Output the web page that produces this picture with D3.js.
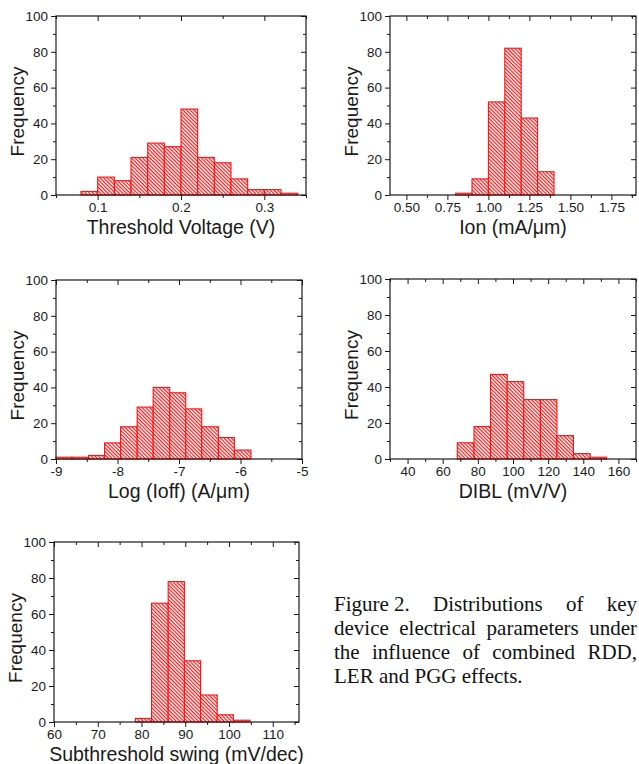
<!DOCTYPE html>
<html>
<head>
<meta charset="utf-8">
<script src="https://cdn.jsdelivr.net/npm/d3@7"></script>
<style>
  html, body { margin: 0; padding: 0; background: #fff; }
  svg { display: block; }
</style>
</head>
<body>
<svg id="chart" width="639" height="764"></svg>
<script>
// ---------------- data ----------------
const freqTicks = [0, 20, 40, 60, 80, 100];

const vthEdges  = [0.08, 0.10, 0.12, 0.14, 0.16, 0.18, 0.20, 0.22, 0.24, 0.26, 0.28, 0.30, 0.32, 0.34];
const vthCounts = [2, 10, 8, 21, 29, 27, 48, 21, 18, 9, 3, 3, 1];
const vthTicks  = [0.1, 0.2, 0.3];

const ionEdges  = [0.8, 0.9, 1.0, 1.1, 1.2, 1.3, 1.4];
const ionCounts = [1, 9, 52, 82, 43, 13];
const ionTicks  = [0.50, 0.75, 1.00, 1.25, 1.50, 1.75];

const ioffEdges  = [-9.00, -8.74, -8.47, -8.21, -7.95, -7.68, -7.42, -7.15, -6.89, -6.63, -6.36, -6.10, -5.83];
const ioffCounts = [1, 1, 2, 9, 18, 29, 40, 37, 28, 18, 12, 5];
const ioffTicks  = [-9, -8, -7, -6, -5];

const diblEdges  = [68.3, 77.8, 87.2, 96.7, 106.1, 115.6, 125.0, 134.4, 143.9, 153.3];
const diblCounts = [9, 18, 47, 43, 33, 33, 13, 3, 1];
const diblTicks  = [40, 60, 80, 100, 120, 140, 160];

const ssEdges  = [78.6, 82.3, 86.1, 89.8, 93.5, 97.3, 101.0, 104.8];
const ssCounts = [2, 66, 78, 34, 15, 4, 1];
const ssTicks  = [60, 70, 80, 90, 100, 110];

const captionLines = [
  ["Figure 2.", "Distributions", "of", "key"],
  ["device", "electrical", "parameters", "under"],
  ["the", "influence", "of", "combined", "RDD,"],
  ["LER and PGG effects."]
];

// ---------------- layout ----------------
const panels = [
  { edges: vthEdges,  counts: vthCounts,  ticks: vthTicks,  domain: [0.05, 0.35], minorStep: 0.05,  fmt: d3.format(".1f"),
    title: "Threshold Voltage (V)", x0: 56, x1: 306, y0: 16, y1: 195 },
  { edges: ionEdges,  counts: ionCounts,  ticks: ionTicks,  domain: [0.4, 1.9],  minorStep: 0.125, fmt: d3.format(".2f"),
    title: "Ion (mA/\u03bcm)", x0: 390, x1: 636, y0: 16, y1: 195 },
  { edges: ioffEdges, counts: ioffCounts, ticks: ioffTicks, domain: [-9, -5],    minorStep: 0.5,   fmt: d => String(d).replace("\u2212", "-"),
    title: "Log (Ioff) (A/\u03bcm)", x0: 56, x1: 302, y0: 280, y1: 459 },
  { edges: diblEdges, counts: diblCounts, ticks: diblTicks, domain: [30, 170],   minorStep: 10,    fmt: d3.format("d"),
    title: "DIBL (mV/V)", x0: 390, x1: 636, y0: 279, y1: 459 },
  { edges: ssEdges,   counts: ssCounts,   ticks: ssTicks,   domain: [60, 116],   minorStep: 5,     fmt: d3.format("d"),
    title: "Subthreshold swing (mV/dec)", x0: 54, x1: 299, y0: 542, y1: 722 }
];

const RED = "#ff1010";
const INK = "#1a1a1a";
const SANS = "'Liberation Sans', Arial, Helvetica, sans-serif";

const svg = d3.select("#chart");
const defs = svg.append("defs");
const pat = defs.append("pattern")
  .attr("id", "hatch")
  .attr("patternUnits", "userSpaceOnUse")
  .attr("width", 2.6).attr("height", 2.6)
  .attr("patternTransform", "rotate(45)");
pat.append("rect").attr("width", 2.6).attr("height", 2.6).attr("fill", "#fff4f4");
pat.append("line").attr("x1", 0).attr("y1", 0).attr("x2", 2.6).attr("y2", 0)
  .attr("stroke", RED).attr("stroke-width", 2.2);

function minorValues(domain, step, majors) {
  const out = [];
  const start = Math.ceil(domain[0] / step - 1e-9);
  const end = Math.floor(domain[1] / step + 1e-9);
  for (let i = start; i <= end; i++) {
    const v = +(i * step).toFixed(6);
    if (!majors.some(m => Math.abs(m - v) < 1e-6)) out.push(v);
  }
  return out;
}

panels.forEach(p => {
  const x = d3.scaleLinear().domain(p.domain).range([p.x0, p.x1]);
  const y = d3.scaleLinear().domain([0, 100]).range([p.y1, p.y0]);
  const g = svg.append("g");

  // bars
  const bins = p.counts.map((c, i) => ({ a: p.edges[i], b: p.edges[i + 1], c }));
  g.append("g").selectAll("rect").data(bins).join("rect")
    .attr("x", d => x(d.a))
    .attr("y", d => y(d.c))
    .attr("width", d => x(d.b) - x(d.a))
    .attr("height", d => y(0) - y(d.c))
    .attr("fill", "url(#hatch)")
    .attr("stroke", RED)
    .attr("stroke-width", 1.1);

  const minX = minorValues(p.domain, p.minorStep, p.ticks);
  const minY = minorValues([0, 100], 10, freqTicks);

  const styleAxis = sel => {
    sel.select(".domain").remove();
    sel.selectAll("line").attr("stroke", INK).attr("stroke-width", 1);
    sel.selectAll("text").attr("fill", INK).style("font-family", SANS).style("font-size", "13.5px");
  };

  // bottom (outward)
  g.append("g").attr("transform", `translate(0,${p.y1})`)
    .call(d3.axisBottom(x).tickValues(p.ticks).tickSize(5).tickPadding(2.5).tickFormat(p.fmt)).call(styleAxis);
  g.append("g").attr("transform", `translate(0,${p.y1})`)
    .call(d3.axisBottom(x).tickValues(minX).tickSize(3).tickFormat("")).call(styleAxis);
  // top (inward)
  g.append("g").attr("transform", `translate(0,${p.y0})`)
    .call(d3.axisBottom(x).tickValues(p.ticks).tickSize(5).tickFormat("")).call(styleAxis);
  g.append("g").attr("transform", `translate(0,${p.y0})`)
    .call(d3.axisBottom(x).tickValues(minX).tickSize(3).tickFormat("")).call(styleAxis);
  // left (outward)
  g.append("g").attr("transform", `translate(${p.x0},0)`)
    .call(d3.axisLeft(y).tickValues(freqTicks).tickSize(5).tickPadding(3)).call(styleAxis);
  g.append("g").attr("transform", `translate(${p.x0},0)`)
    .call(d3.axisLeft(y).tickValues(minY).tickSize(3).tickFormat("")).call(styleAxis);
  // right (inward)
  g.append("g").attr("transform", `translate(${p.x1},0)`)
    .call(d3.axisLeft(y).tickValues(freqTicks).tickSize(5).tickFormat("")).call(styleAxis);
  g.append("g").attr("transform", `translate(${p.x1},0)`)
    .call(d3.axisLeft(y).tickValues(minY).tickSize(3).tickFormat("")).call(styleAxis);

  // frame
  g.append("rect")
    .attr("x", p.x0).attr("y", p.y0)
    .attr("width", p.x1 - p.x0).attr("height", p.y1 - p.y0)
    .attr("fill", "none").attr("stroke", INK).attr("stroke-width", 1.2);

  // titles
  g.append("text")
    .attr("x", (p.x0 + p.x1) / 2).attr("y", p.y1 + 38.5)
    .attr("text-anchor", "middle")
    .attr("fill", INK)
    .style("font-family", SANS).style("font-size", "19.5px")
    .text(p.title);
  const cy = (p.y0 + p.y1) / 2 + 6;
  g.append("text")
    .attr("transform", `translate(${p.x0 - 32},${cy}) rotate(-90)`)
    .attr("text-anchor", "middle")
    .attr("fill", INK)
    .style("font-family", SANS).style("font-size", "19px")
    .text("Frequency");
});

// caption (justified like the source)
const capLeft = 334, capRight = 637, capTop = 611, capLead = 24;
const cap = svg.append("g")
  .style("font-family", "'Liberation Serif', 'Times New Roman', serif")
  .style("font-size", "21px").attr("fill", "#111");
captionLines.forEach((words, li) => {
  const yb = capTop + li * capLead;
  const justify = li < captionLines.length - 1;
  const texts = words.map(w => cap.append("text").attr("y", yb).text(w));
  const widths = texts.map(t => t.node().getComputedTextLength());
  const total = d3.sum(widths);
  const gap = justify && words.length > 1 ? (capRight - capLeft - total) / (words.length - 1) : 5;
  let cx = capLeft;
  texts.forEach((t, i) => { t.attr("x", cx); cx += widths[i] + gap; });
});
</script>
</body>
</html>
